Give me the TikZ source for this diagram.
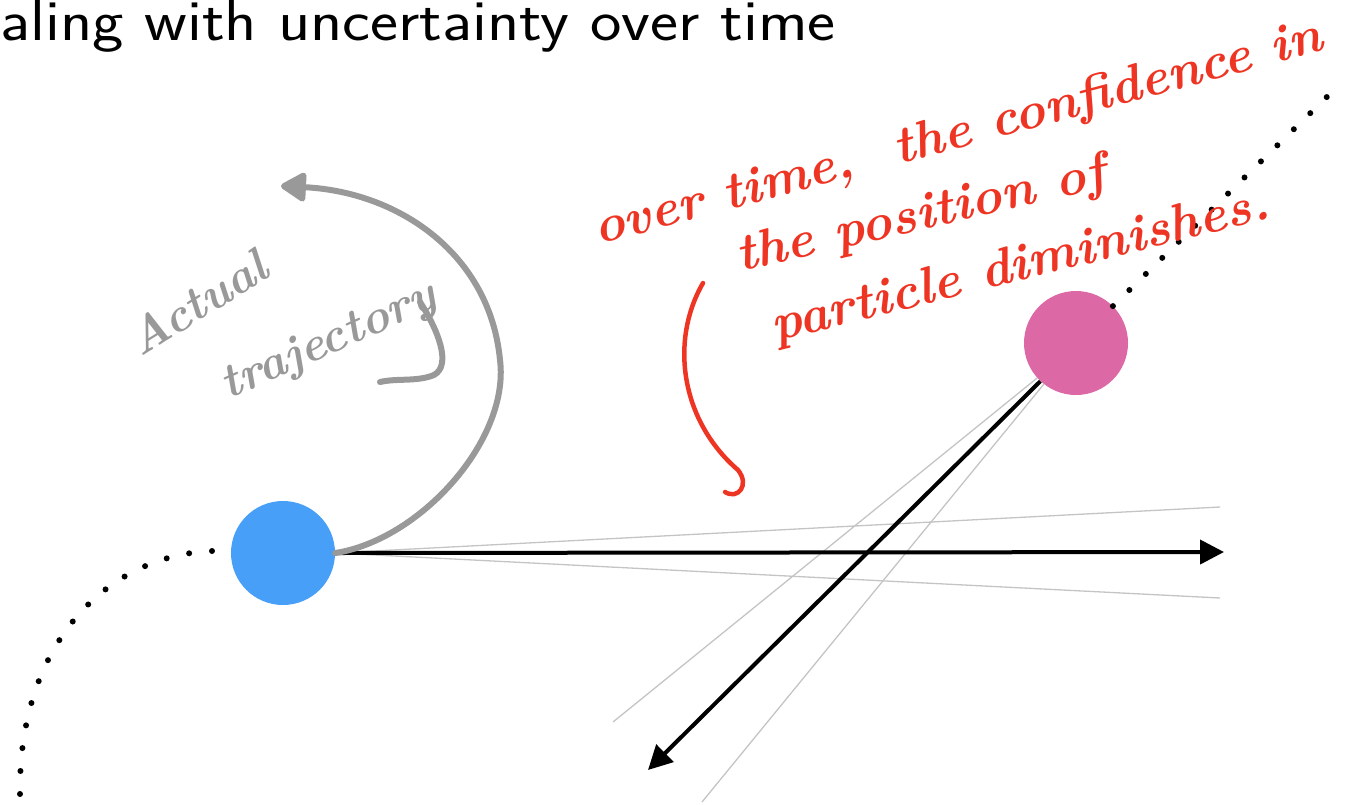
\documentclass[tikz,border=0pt]{standalone}
\usepackage{fontspec}
\usetikzlibrary{arrows.meta}
\definecolor{pblue}{HTML}{479FF7}
\definecolor{ppink}{HTML}{DC68A6}
\definecolor{pen}{HTML}{EE3524}
\definecolor{pgray}{HTML}{999999}
\definecolor{faint}{HTML}{C4C4C4}
\tikzset{
  particle/.style={circle, minimum size=104pt, inner sep=0pt},
  dotpath/.style={line width=6pt, line cap=round, dash pattern=on 0pt off 23pt},
  mainarrow/.style={line width=4pt, -{Triangle[length=24pt,width=24pt]}},
  faintline/.style={faint, line width=1.3pt},
  grayarc/.style={pgray, line width=6pt, line cap=round, -{Triangle[length=28pt,width=32pt,round]}},
  graypen/.style={pgray, line width=6pt, line cap=round},
  redpen/.style={pen, line width=4.5pt, line cap=round},
  redhand/.style={text=pen, font=\fontsize{52}{56}\selectfont\bfseries\itshape, inner sep=0pt},
  grayhand/.style={text=pgray, font=\fontsize{48}{50}\selectfont\bfseries\itshape, inner sep=0pt},
}
\begin{document}
\begin{tikzpicture}[x=1pt,y=-1pt]
\useasboundingbox (0,0) rectangle (1357,804);
% title
\node[anchor=base west, inner sep=0pt, xscale=1.15, font=\sffamily\fontsize{58}{60}\selectfont] (title) at (0,40) {aling with uncertainty over time};
% particles
\node[particle, fill=pblue] (p1) at (283,553) {};
\node[particle, fill=ppink] (p2) at (1076,343) {};
% coordinates
\coordinate (hend) at (1224,552);
\coordinate (hup) at (1220,507);
\coordinate (hdn) at (1220,598);
\coordinate (dend) at (648,770);
\coordinate (dl) at (613,722);
\coordinate (dr) at (702,802);
\coordinate (tail) at (20,795);
\coordinate (tailstart) at (212,551);
\coordinate (future) at (1336,88);
\coordinate (arctip) at (281,186);
% uncertainty lines
\draw[faintline] (p1.east) -- (hup);
\draw[faintline] (p1.east) -- (hdn);
\draw[faintline] (p2.222) -- (dl);
\draw[faintline] (p2.232) -- (dr);
% main arrows
\draw[mainarrow] (p1.east) -- (hend);
\draw[mainarrow] (p2.227) -- (dend);
% dotted paths
\draw[dotpath] (tailstart) .. controls (110,555) and (18,640) .. (tail);
\draw[dotpath] (p2.45) -- (future);
% actual trajectory
\draw[grayarc] (p1.east) .. controls (420,540) and (510,440) .. (500,360)
   .. controls (490,255) and (400,192) .. (arctip);
\node[grayhand, rotate=32, anchor=base west] (act) at (140,358) {Actual};
\node[grayhand, rotate=24, anchor=base west] (traj) at (228,400) {trajectory};
\draw[graypen] (420,302) .. controls (438,330) and (452,365) .. (434,375) .. controls (417,382) and (397,378) .. (380,382);
% red annotation
\node[redhand, rotate=15, anchor=base west] (l1) at (598,245) {over time,\ \ the confidence in};
\node[redhand, rotate=13, anchor=base west] (l2) at (740,272) {the position of};
\node[redhand, rotate=14, anchor=base west] (l3) at (775,342) {particle diminishes.};
\draw[redpen] (703,283) .. controls (670,340) and (680,420) .. (738,470) .. controls (750,485) and (738,500) .. (725,492);
\end{tikzpicture}
\end{document}
